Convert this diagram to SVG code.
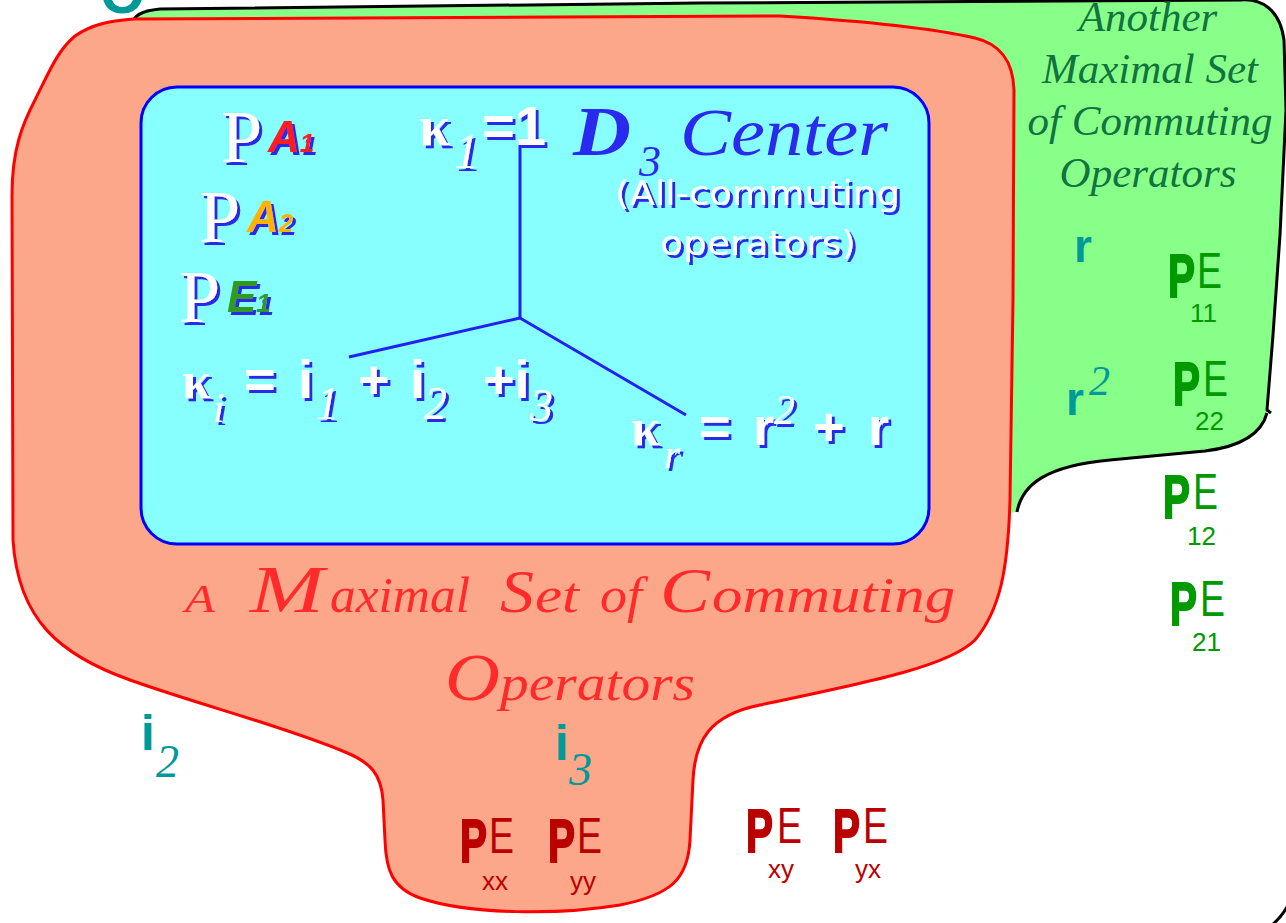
<svg xmlns="http://www.w3.org/2000/svg" width="1286" height="923" viewBox="0 0 1286 923">
<style>
.wt{fill:#ffffff}
.sans{font-family:"Liberation Sans",Arial,sans-serif}
.serif{font-family:"Liberation Serif","Times New Roman",serif}
.dv{font-family:"DejaVu Sans",Verdana,sans-serif}
.bP{font-family:"Liberation Sans",Arial,sans-serif;font-weight:bold;font-size:62px;stroke-width:2}
.bE{font-family:"Liberation Sans",Arial,sans-serif;font-size:50px;stroke-width:0}
.bS{font-family:"Liberation Sans",Arial,sans-serif;font-size:26px;stroke-width:0}
.gr{fill:#009900;stroke:#009900}
.rd{fill:#bb0000;stroke:#bb0000}
.teal{fill:#009999}
.ttl{font-family:"Liberation Serif","Times New Roman",serif;font-style:italic;font-size:43px;fill:#11733f;text-anchor:middle}
.red{font-family:"Liberation Serif","Times New Roman",serif;font-style:italic;fill:#ff2a2a}
</style>
<defs>
<filter id="sh" x="-30%" y="-30%" width="170%" height="170%">
<feOffset in="SourceAlpha" dx="2.5" dy="2.5" result="o"/>
<feFlood flood-color="#2a2ae6"/>
<feComposite in2="o" operator="in" result="s"/>
<feMerge><feMergeNode in="s"/><feMergeNode in="SourceGraphic"/></feMerge>
</filter>
</defs>
<rect width="1286" height="923" fill="#ffffff"/>

<g id="outer-set">
<path d="M1272,925 C1278,920 1283,914 1287,907" fill="none" stroke="#000" stroke-width="3"/>
<text x="100" y="13" class="sans teal" font-weight="bold" font-size="58">O</text>
</g>

<g id="green-set">
<path d="M133,30 C133,16 140,11 160,9 L700,3 L1240,0 C1262,-2 1280,10 1284,40 L1286,110 L1280,235 L1273,335 L1267,412 C1262,432 1245,446 1205,451 L1110,460 C1045,466 1022,485 1017,512 L900,520 L300,200 Z" fill="#88ff88"/>
<path d="M133,24 C133,16 140,11 160,9 L700,3 L1240,0 C1262,-2 1280,10 1284,40 L1286,110 L1280,235 L1273,335 L1267,410 L1271,413 M1267,413 C1262,432 1245,446 1205,451 L1110,460 C1045,466 1022,485 1017,512" fill="none" stroke="#000" stroke-width="3" stroke-linejoin="round"/>
<text class="ttl"><tspan x="1148" y="31">Another</tspan><tspan x="1150" y="83">Maximal  Set</tspan><tspan x="1150" y="135">of  Commuting</tspan><tspan x="1148" y="187">Operators</tspan></text>
</g>

<g id="red-set">
<path d="M133,19 C300,18 500,17 780,16 C880,22 940,30 975,38 C1000,44 1013,60 1014,90 L1013,300 L1010,500 C1008,570 1000,610 975,640 C950,665 880,680 760,705 C710,715 695,740 693,780 L690,840 C688,880 670,895 620,905 C560,915 470,915 420,898 C392,888 386,870 385,840 L383,800 C381,775 372,763 345,752 C280,725 200,705 130,680 C60,655 18,620 13,540 L12,195 C12,150 22,125 35,100 C50,70 58,50 75,36 C92,24 110,21 133,19 Z" fill="#fca68a" stroke="#ff0000" stroke-width="3" stroke-linejoin="round"/>
<text class="red" y="612"><tspan x="185" font-size="40" textLength="30" lengthAdjust="spacingAndGlyphs">A</tspan><tspan x="250" font-size="68" textLength="74" lengthAdjust="spacingAndGlyphs">M</tspan><tspan x="330" font-size="50" textLength="140" lengthAdjust="spacingAndGlyphs">aximal</tspan><tspan x="500" font-size="62" textLength="34" lengthAdjust="spacingAndGlyphs">S</tspan><tspan x="535" font-size="50" textLength="44" lengthAdjust="spacingAndGlyphs">et</tspan><tspan x="600" font-size="50" textLength="42" lengthAdjust="spacingAndGlyphs">of</tspan><tspan x="660" font-size="64" textLength="50" lengthAdjust="spacingAndGlyphs">C</tspan><tspan x="712" font-size="50" textLength="243" lengthAdjust="spacingAndGlyphs">ommuting</tspan></text>
<text class="red" y="700"><tspan x="445" font-size="68" textLength="55" lengthAdjust="spacingAndGlyphs">O</tspan><tspan x="500" font-size="50" textLength="195" lengthAdjust="spacingAndGlyphs">perators</tspan></text>
</g>

<g id="center">
<rect x="141" y="87" width="788" height="457" rx="36" fill="#88ffff" stroke="#0000ff" stroke-width="3"/>
<text y="155" fill="#2a2aee" class="serif" font-style="italic"><tspan x="573" font-size="70" font-weight="bold" textLength="58" lengthAdjust="spacingAndGlyphs">D</tspan><tspan x="639" y="176" font-size="44">3</tspan><tspan x="680" y="155" font-size="68" textLength="208" lengthAdjust="spacingAndGlyphs">Center</tspan></text>
<g filter="url(#sh)" class="dv wt" font-size="33">
<text x="615" y="205" textLength="285" lengthAdjust="spacingAndGlyphs">(All-commuting</text>
<text x="660" y="255" textLength="196" lengthAdjust="spacingAndGlyphs">operators)</text>
</g>
</g>

<g id="connectors" stroke="#2222ee" stroke-width="3" fill="none">
<line x1="520" y1="140" x2="520" y2="318"/>
<line x1="520" y1="318" x2="349" y2="357"/>
<line x1="520" y1="318" x2="686" y2="415"/>
</g>

<g id="projectors-center" filter="url(#sh)">
<text x="221" y="162" class="serif wt" font-size="74">P</text>
<text x="268" y="152" class="sans" font-style="italic" font-weight="bold" fill="#ff1a1a"><tspan font-size="44">A</tspan><tspan font-size="26">1</tspan></text>
<text x="199" y="242" class="serif wt" font-size="74">P</text>
<text x="247" y="232" class="sans" font-style="italic" font-weight="bold" fill="#ffb300"><tspan font-size="44">A</tspan><tspan font-size="26">2</tspan></text>
<text x="179" y="322" class="serif wt" font-size="74">P</text>
<text x="227" y="312" class="sans" font-style="italic" font-weight="bold" fill="#339922"><tspan font-size="44">E</tspan><tspan font-size="26">1</tspan></text>
</g>

<g id="kappa-1" filter="url(#sh)" class="wt">
<text x="419" y="145" class="serif" font-weight="bold" font-size="56">κ</text>
<text x="454" y="168" class="serif" font-style="italic" font-size="50">1</text>
<text x="482" y="145" class="sans" font-weight="bold" font-size="56">=1</text>
</g>

<g id="kappa-i" filter="url(#sh)" class="wt">
<text x="182" y="398" class="serif" font-weight="bold" font-size="52">κ</text>
<text x="213" y="422" class="serif" font-style="italic" font-size="42">i</text>
<text x="244" y="398" class="sans" font-weight="bold" font-size="54">=</text>
<text x="298" y="398" class="sans" font-weight="bold" font-size="54">i</text>
<text x="316" y="419" class="serif" font-style="italic" font-size="46">1</text>
<text x="358" y="398" class="sans" font-weight="bold" font-size="54">+</text>
<text x="410" y="398" class="sans" font-weight="bold" font-size="54">i</text>
<text x="424" y="419" class="serif" font-style="italic" font-size="46">2</text>
<text x="483" y="398" class="sans" font-weight="bold" font-size="54">+i</text>
<text x="530" y="421" class="serif" font-style="italic" font-size="46">3</text>
</g>

<g id="kappa-r" filter="url(#sh)" class="wt">
<text x="631" y="445" class="serif" font-weight="bold" font-size="52">κ</text>
<text x="664" y="468" class="serif" font-style="italic" font-size="42">r</text>
<text x="699" y="445" class="sans" font-weight="bold" font-size="54">=</text>
<text x="753" y="445" class="sans" font-weight="bold" font-size="54">r</text>
<text x="774" y="424" class="serif" font-style="italic" font-size="42">2</text>
<text x="813" y="445" class="sans" font-weight="bold" font-size="54">+</text>
<text x="868" y="445" class="sans" font-weight="bold" font-size="54">r</text>
</g>

<g id="rotations" class="sans teal" font-weight="bold">
<text x="1074" y="262" font-size="46">r</text>
<text x="1066" y="415" font-size="46">r</text>
<text x="1089" y="395" class="serif" font-style="italic" font-weight="normal" font-size="42">2</text>
</g>

<g id="reflections" class="teal">
<text x="141" y="750" class="sans" font-weight="bold" font-size="50">i</text>
<text x="156" y="777" class="serif" font-style="italic" font-size="46">2</text>
<text x="555" y="760" class="sans" font-weight="bold" font-size="50">i</text>
<text x="569" y="785" class="serif" font-style="italic" font-size="46">3</text>
</g>

<g id="pe11"><text x="1168" y="297" class="bP gr" textLength="27" lengthAdjust="spacingAndGlyphs">P</text><text x="1197" y="288" class="bE gr" textLength="25" lengthAdjust="spacingAndGlyphs">E</text><text x="1190" y="322" class="bS gr">11</text></g>
<g id="pe22"><text x="1173" y="405" class="bP gr" textLength="27" lengthAdjust="spacingAndGlyphs">P</text><text x="1203" y="396" class="bE gr" textLength="25" lengthAdjust="spacingAndGlyphs">E</text><text x="1195" y="430" class="bS gr">22</text></g>
<g id="pe12"><text x="1163" y="518" class="bP gr" textLength="27" lengthAdjust="spacingAndGlyphs">P</text><text x="1193" y="509" class="bE gr" textLength="25" lengthAdjust="spacingAndGlyphs">E</text><text x="1187" y="545" class="bS gr">12</text></g>
<g id="pe21"><text x="1170" y="625" class="bP gr" textLength="27" lengthAdjust="spacingAndGlyphs">P</text><text x="1200" y="616" class="bE gr" textLength="25" lengthAdjust="spacingAndGlyphs">E</text><text x="1192" y="651" class="bS gr">21</text></g>
<g id="pexx"><text x="460" y="862" class="bP rd" textLength="27" lengthAdjust="spacingAndGlyphs">P</text><text x="489" y="853" class="bE rd" textLength="25" lengthAdjust="spacingAndGlyphs">E</text><text x="482" y="890" class="bS rd">xx</text></g>
<g id="peyy"><text x="548" y="862" class="bP rd" textLength="27" lengthAdjust="spacingAndGlyphs">P</text><text x="577" y="853" class="bE rd" textLength="25" lengthAdjust="spacingAndGlyphs">E</text><text x="570" y="890" class="bS rd">yy</text></g>
<g id="pexy"><text x="746" y="852" class="bP rd" textLength="27" lengthAdjust="spacingAndGlyphs">P</text><text x="777" y="843" class="bE rd" textLength="25" lengthAdjust="spacingAndGlyphs">E</text><text x="768" y="878" class="bS rd">xy</text></g>
<g id="peyx"><text x="833" y="852" class="bP rd" textLength="27" lengthAdjust="spacingAndGlyphs">P</text><text x="863" y="843" class="bE rd" textLength="25" lengthAdjust="spacingAndGlyphs">E</text><text x="855" y="878" class="bS rd">yx</text></g>
</svg>
